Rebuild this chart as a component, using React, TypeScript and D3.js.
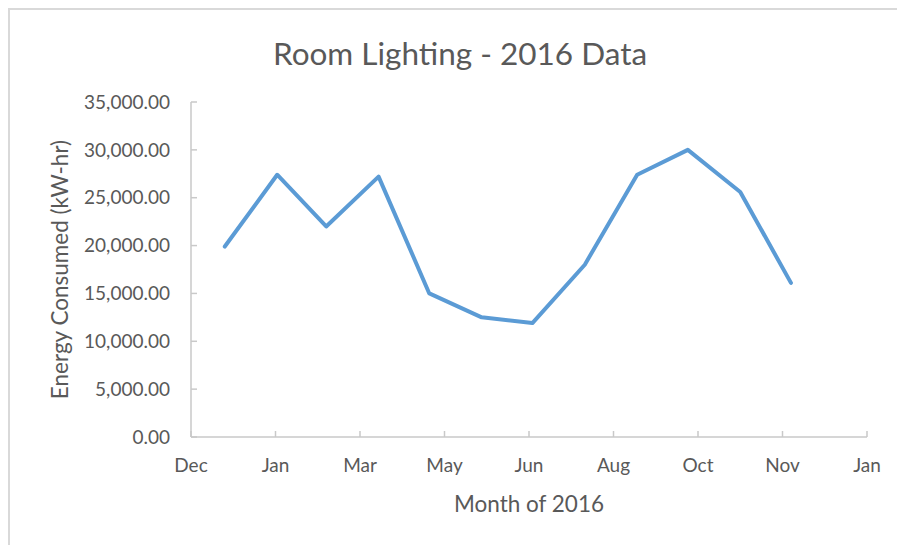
import * as d3 from "d3"

// monthly readings, first of each month 2016
const months = [
  "2016-01-01", "2016-02-01", "2016-03-01", "2016-04-01",
  "2016-05-01", "2016-06-01", "2016-07-01", "2016-08-01",
  "2016-09-01", "2016-10-01", "2016-11-01", "2016-12-01",
]
const energy = [
  19900, 27400, 22000, 27200, 15000, 12500,
  11900, 18000, 27400, 30000, 25600, 16100,
]
const yTicks = [0, 5000, 10000, 15000, 20000, 25000, 30000, 35000]
// excel date axis: starts 2015-12-12, major unit 50 days
const axisStart = "2015-12-12"
const majorUnitDays = 50
const majorCount = 8

const title = "Room Lighting - 2016 Data"
const xTitle = "Month of 2016"
const yTitle = "Energy Consumed (kW-hr)"

const W = 897
const H = 545
const font = "Lato, 'Open Sans', sans-serif"
const textColor = "#595959"
const axisColor = "#c9c9c9"

export default function App() {
  const margin = {top: 102, right: 30, bottom: 108, left: 191}
  const innerWidth = W - margin.left - margin.right
  const innerHeight = H - margin.top - margin.bottom

  const start = d3.utcParse("%Y-%m-%d")(axisStart)!
  const xTickValues = d3.range(majorCount + 1).map((k) => d3.utcDay.offset(start, k * majorUnitDays))
  const end = xTickValues[xTickValues.length - 1]

  const xScale = d3.scaleUtc().domain([start, end]).range([0, innerWidth])
  const yScale = d3.scaleLinear().domain([0, 35000]).range([innerHeight, 0])
  const fmtY = d3.format(",.2f")
  const fmtX = d3.utcFormat("%b")

  const data = months.map((m, i) => ({date: d3.utcParse("%Y-%m-%d")(m)!, value: energy[i]}))
  const line = d3
    .line<{date: Date; value: number}>()
    .x((d) => xScale(d.date))
    .y((d) => yScale(d.value))

  return (
    <svg width={W} height={H} style={{position: "absolute", left: 0, top: 0, background: "#fff"}}>
      <rect x={9} y={9} width={W + 40} height={H + 40} fill="#fff" stroke="#d9d9d9" strokeWidth={2} />
      <text x={460} y={65} textAnchor="middle" fontFamily={font} fontSize={31.5} fill={textColor}>
        {title}
      </text>
      <g transform={`translate(${margin.left},${margin.top})`}>
        {/* y axis */}
        <line x1={0} x2={0} y1={0} y2={innerHeight} stroke={axisColor} strokeWidth={1.5} />
        {yTicks.map((t) => (
          <g key={t} transform={`translate(0,${yScale(t)})`}>
            <line x1={0} x2={6} stroke={axisColor} strokeWidth={1.5} />
            <text x={-21} dy="0.35em" textAnchor="end" fontFamily={font} fontSize={19} fill={textColor}>
              {fmtY(t)}
            </text>
          </g>
        ))}
        {/* x axis */}
        <line x1={0} x2={innerWidth} y1={innerHeight} y2={innerHeight} stroke={axisColor} strokeWidth={1.5} />
        {xTickValues.map((t, i) => (
          <g key={i} transform={`translate(${xScale(t)},${innerHeight})`}>
            <line y1={0} y2={-6} stroke={axisColor} strokeWidth={1.5} />
            <text y={35} textAnchor="middle" fontFamily={font} fontSize={19} fill={textColor}>
              {fmtX(t)}
            </text>
          </g>
        ))}
        <path d={line(data)!} fill="none" stroke="#5b9bd5" strokeWidth={4} strokeLinejoin="round" strokeLinecap="round" />
        <text
          x={innerWidth / 2}
          y={innerHeight + 75}
          textAnchor="middle"
          fontFamily={font}
          fontSize={22.5}
          fill={textColor}
        >
          {xTitle}
        </text>
        <text
          transform={`translate(${60 - margin.left},${innerHeight / 2}) rotate(-90)`}
          dy="0.35em"
          textAnchor="middle"
          fontFamily={font}
          fontSize={22.5}
          fill={textColor}
        >
          {yTitle}
        </text>
      </g>
    </svg>
  )
}
